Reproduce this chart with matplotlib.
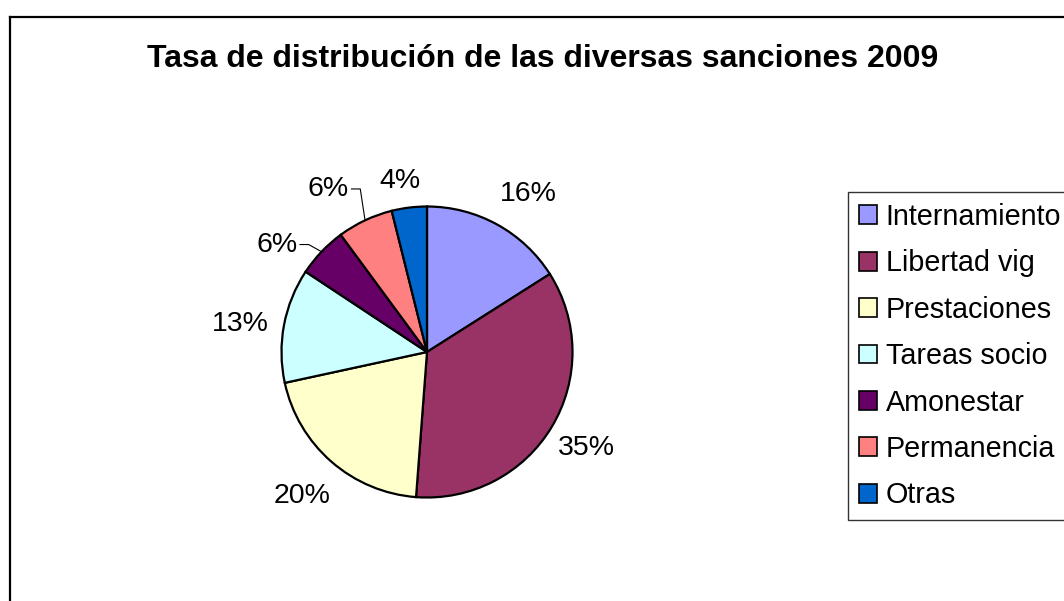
import matplotlib
matplotlib.use("Agg")
import matplotlib.pyplot as plt
import numpy as np
from matplotlib.patches import Patch
from matplotlib.lines import Line2D

categories = ["Internamiento", "Libertad vig", "Prestaciones", "Tareas socio",
              "Amonestar", "Permanencia", "Otras"]
values = [16.0, 35.2, 20.4, 12.7, 5.6, 6.2, 3.9]
colors = ["#9999FF", "#993366", "#FFFFCC", "#CCFFFF", "#660066", "#FF8080", "#0066CC"]
title = "Tasa de distribución de las diversas sanciones 2009"

plt.rcParams['font.family'] = ['Liberation Sans', 'DejaVu Sans']

W, H = 1064, 601
fig = plt.figure(figsize=(W / 100, H / 100), dpi=100)
fig.patch.set_facecolor("white")

# outer chart frame (extends beyond right/bottom)
fig.add_artist(Line2D([10 / W, 10 / W], [0, 1 - 17 / H], color="black", lw=1.6,
                      transform=fig.transFigure))
fig.add_artist(Line2D([10 / W, 1.0], [1 - 17 / H, 1 - 17 / H], color="black", lw=1.6,
                      transform=fig.transFigure))

fig.text(543 / W, 1 - 59 / H, title, ha="center", va="center",
         fontsize=23, fontweight="bold")

cx, cy, R = 427, 352, 145.5
ax = fig.add_axes([(cx - R) / W, (H - cy - R) / H, 2 * R / W, 2 * R / H])
wedges, _ = ax.pie(values, colors=colors, startangle=90, counterclock=False,
                   wedgeprops=dict(edgecolor="black", linewidth=1.6))
ax.set_xlim(-1, 1)
ax.set_ylim(-1, 1)
ax.set_aspect("equal")
ax.axis("off")

total = sum(values)
fs = 20.5
# label layout: (distance factor, angle shift in degrees, leader line)
label_layout = [(1.29, -4, False), (1.28, 0, False), (1.31, 0, False),
                (1.30, 2, False), (1.27, 8, True), (1.31, 6, True), (1.19, 2, False)]
for w, v, (dist, shift, leader) in zip(wedges, values, label_layout):
    mid = np.deg2rad((w.theta1 + w.theta2) / 2)
    ang = mid + np.deg2rad(shift)
    tx, ty = dist * np.cos(ang), dist * np.sin(ang)
    txt = f"{v / total * 100:.0f}%"
    ax.text(tx, ty, txt, ha="center", va="center", fontsize=fs, clip_on=False)
    if leader:
        ex, ey = np.cos(mid), np.sin(mid)
        right = tx + 0.16
        elbow = right + 0.06
        ax.plot([ex, elbow, right], [ey, ty, ty], color="black", lw=0.8,
                clip_on=False)

handles = [Patch(facecolor=c, edgecolor="black", linewidth=1.2) for c in colors]
leg = fig.legend(handles, categories, loc="upper left",
                 bbox_to_anchor=(848 / W, 1 - 192 / H), fontsize=20.7,
                 frameon=True, fancybox=False, edgecolor="black",
                 handlelength=0.63, handleheight=0.63, handletextpad=0.3,
                 labelspacing=0.64, borderpad=0.38, borderaxespad=0)
leg.get_frame().set_linewidth(1.0)

fig.savefig("out.png", dpi=100)
